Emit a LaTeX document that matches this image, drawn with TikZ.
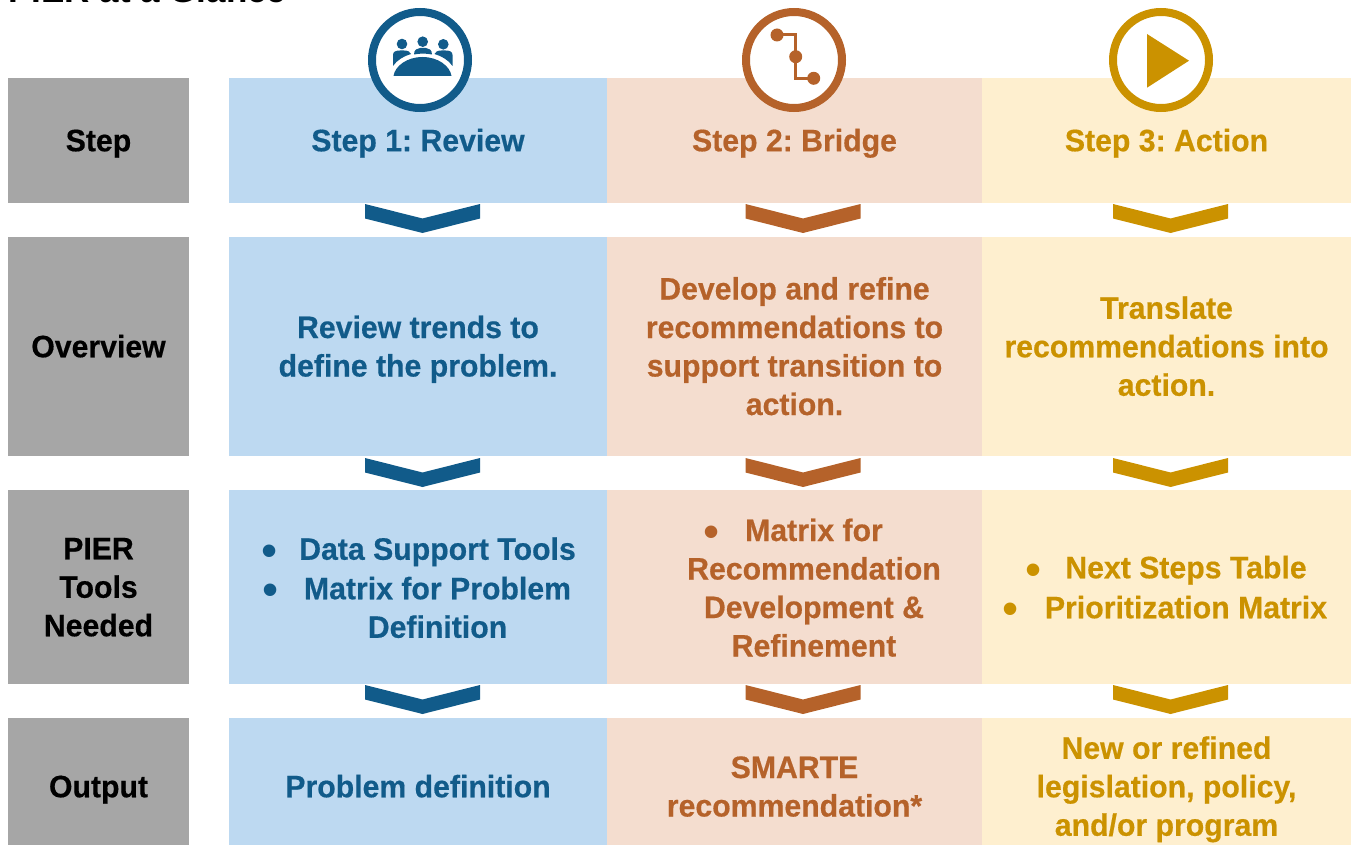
\documentclass[tikz,border=0pt]{standalone}
\usepackage{fontspec}
\setmainfont{Liberation Sans}[BoldFont={Liberation Sans Bold},BoldFeatures={FakeBold=0.5,FakeStretch=0.975}]
\newfontfamily\titlefont{Liberation Sans Bold}
\newfontfamily\bulletfont{Liberation Sans}
\frenchspacing
\definecolor{bluD}{HTML}{115B8A}
\definecolor{bluL}{HTML}{BDD9F1}
\definecolor{perD}{HTML}{B5622A}
\definecolor{perL}{HTML}{F4DDCF}
\definecolor{yelD}{HTML}{CB9200}
\definecolor{yelL}{HTML}{FEEFCF}
\definecolor{gryB}{HTML}{A6A6A6}
\newcommand{\bodyfont}{\bfseries\fontsize{31}{38.5}\selectfont}
\newcommand{\St}{\rule{0pt}{28.5pt}}
\newcommand{\Sb}{\rule[-7pt]{0pt}{1pt}}
\tikzset{
  x=1pt,y=-1pt,
  cell/.style={anchor=north west,inner sep=0pt,outer sep=0pt,align=center,font=\bodyfont},
  lbl/.style={cell,fill=gryB,text=black,minimum width=181pt},
  blu/.style={cell,fill=bluL,text=bluD,minimum width=378pt},
  per/.style={cell,fill=perL,text=perD,minimum width=375pt},
  yel/.style={cell,fill=yelL,text=yelD,minimum width=369pt},
  txt/.style={inner sep=0pt,outer sep=0pt,align=center,font=\bodyfont},
  bull/.style={anchor=base,inner sep=0pt,outer sep=0pt,font=\bulletfont\fontsize{46}{46}\selectfont},
  ring/.style={circle,draw,line width=8pt,fill=white,minimum size=96pt,inner sep=0pt},
  row1/.style={minimum height=125pt},
  row2/.style={minimum height=219pt},
  row3/.style={minimum height=194pt},
  row4/.style={minimum height=137pt},
}
\newcommand{\chev}[3]{\fill[#1] (#2-57.5,#3) -- (#2,#3+14.5) -- (#2+57.5,#3) -- (#2+57.5,#3+14.5) -- (#2,#3+29) -- (#2-57.5,#3+14.5) -- cycle;}
\begin{document}
\begin{tikzpicture}
\useasboundingbox (0,0) rectangle (1351,845);
\clip (0,0) rectangle (1351,845);
\node[anchor=base west,inner sep=0pt,font=\titlefont\fontsize{35}{35}\selectfont] (title) at (8,3) {PIER at a Glance};

\node[lbl,row1] (s0) at (8,78) {\St\Sb Step};
\node[lbl,row2] (o0) at (8,237) {\St\Sb Overview};
\node[lbl,row3] (t0) at (8,490) {\St PIER\\Tools\\\Sb Needed};
\node[lbl,row4] (u0) at (8,718) {\St\Sb Output};

\node[blu,row1] (s1) at (229,78) {\St\Sb Step 1: Review};
\node[per,row1] (s2) at (607,78) {\St\Sb Step 2: Bridge};
\node[yel,row1] (s3) at (982,78) {\St\Sb Step 3: Action};

\node[blu,row2] (o1) at (229,237) {\St Review trends to\\\Sb define the problem.};
\node[per,row2] (o2) at (607,237) {\St Develop and refine\\recommendations to\\support transition to\\\Sb action.};
\node[yel,row2] (o3) at (982,237) {\St Translate\\recommendations into\\\Sb action.};

\node[blu,row3] (t1) at (229,490) {};
\node[per,row3] (t2) at (607,490) {};
\node[yel,row3] (t3) at (982,490) {};
\node[txt,text=bluD] (t1t) at (437.5,588) {\St Data Support Tools\\[1pt]Matrix for Problem\\\Sb Definition};
\node[bull,text=bluD] (t1a) at (270,566) {•};
\node[bull,text=bluD] (t1b) at (271,605) {•};
\node[txt,text=perD] (t2t) at (814,588) {\St Matrix for\\Recommendation\\Development \&\\\Sb Refinement};
\node[bull,text=perD] (t2a) at (711.5,547) {•};
\node[txt,text=yelD] (t3t) at (1186,587.5) {\St Next Steps Table\\[1.5pt]\Sb Prioritization Matrix};
\node[bull,text=yelD] (t3a) at (1033.5,585) {•};
\node[bull,text=yelD] (t3b) at (1010.5,624.5) {•};

\node[blu,row4] (u1) at (229,718) {\St\Sb Problem definition};
\node[per,row4] (u2) at (607,718) {\St SMARTE\\\Sb recommendation*};
\node[yel,row4] (u3) at (982,718) {\St New or refined\\legislation, policy,\\\Sb and/or program};

\foreach \r in {204,458,685}{
  \chev{bluD}{422.5}{\r}
  \chev{perD}{803}{\r}
  \chev{yelD}{1170.5}{\r}
}

% Review icon
\node[ring,draw=bluD] (c1) at (420,60) {};
\fill[bluD] (402,44) circle (5.3) (422.7,41.7) circle (5.3) (443.3,44.3) circle (5.3);
\fill[bluD] (393,55) .. controls (393,51.5) and (396,50.5) .. (400,50.5) -- (404,50.5) .. controls (408,50.5) and (410.5,52) .. (411,54) .. controls (404,56) and (397,60) .. (393,66) -- cycle;
\fill[bluD] (452.5,55) .. controls (452.5,51.5) and (449.5,50.5) .. (445.5,50.5) -- (441.5,50.5) .. controls (437.5,50.5) and (435,52) .. (434.5,54) .. controls (441.5,56) and (448.5,60) .. (452.5,66) -- cycle;
\fill[bluD] (414,54.5) .. controls (414,50) and (417,48) .. (420,48) -- (426,48) .. controls (429,48) and (432,50) .. (432,54.5) .. controls (426,53.3) and (420,53.3) .. (414,54.5) -- cycle;
\fill[bluD] (393.5,76) .. controls (395,66) and (407,57) .. (422.5,57) .. controls (438,57) and (450,66) .. (451.5,76) -- cycle;

% Bridge icon
\node[ring,draw=perD] (c2) at (794,60) {};
\draw[perD,line width=3pt] (777,35) -| (795.7,78.3) -- (813.7,78.3);
\fill[perD] (777,35) circle (6.5) (795.7,56.7) circle (6.5) (813.7,78.3) circle (6.5);

% Action icon
\node[ring,draw=yelD] (c3) at (1161,60) {};
\fill[yelD] (1147,34) -- (1189,60.7) -- (1147,87.7) -- cycle;
\end{tikzpicture}
\end{document}
